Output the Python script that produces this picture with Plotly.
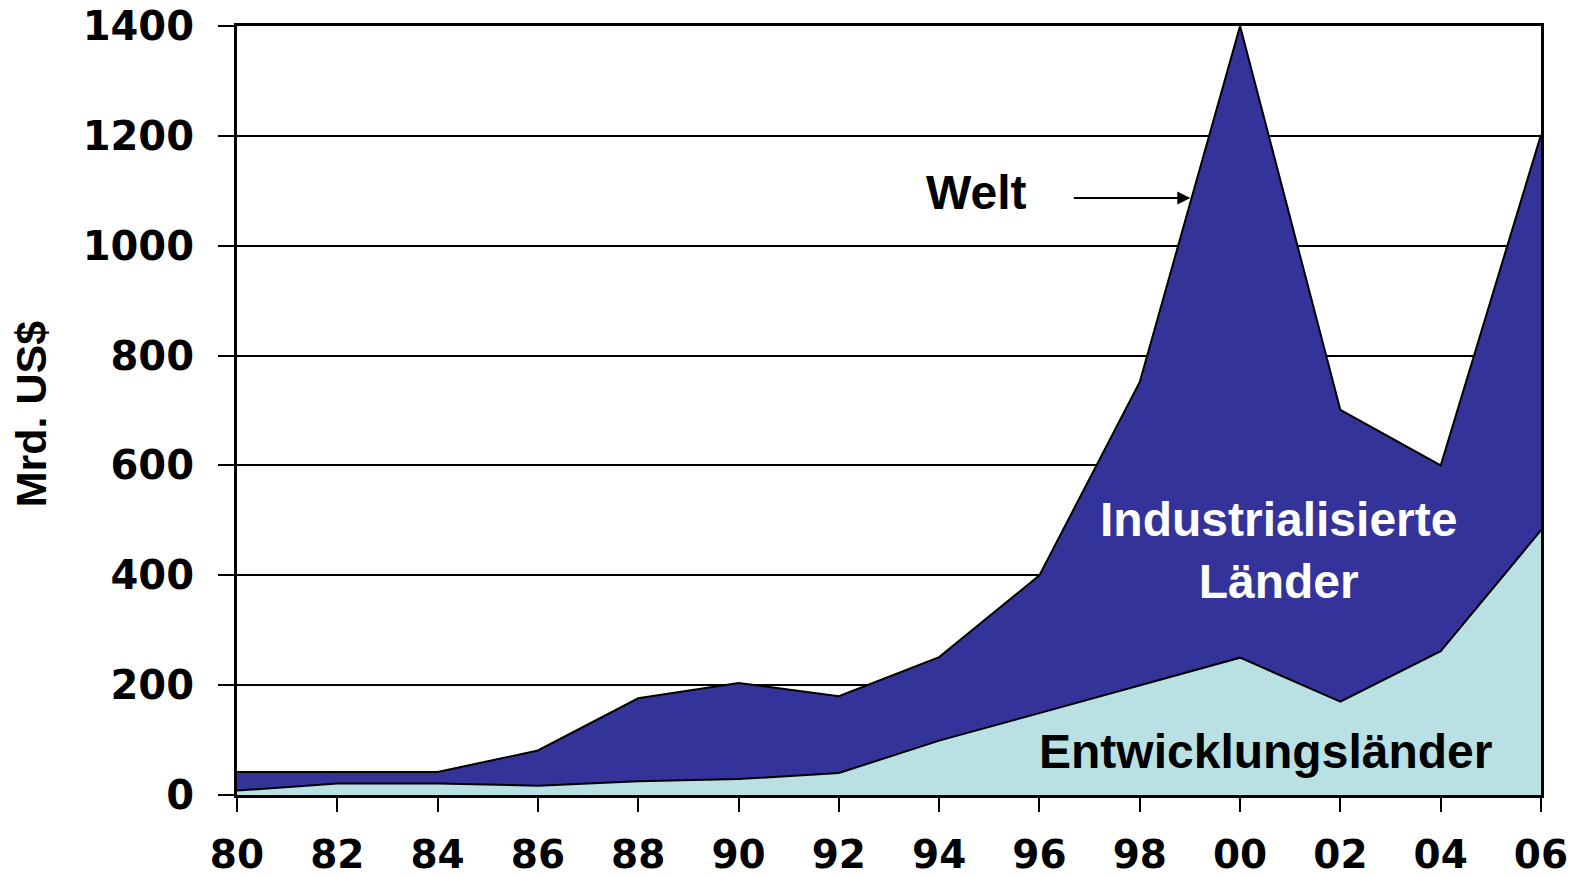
import plotly.graph_objects as go

# Jahre (zweistellig) und Werte in Mrd. US$
years = ["80", "82", "84", "86", "88", "90", "92", "94", "96", "98", "00", "02", "04", "06"]
welt = [42, 42, 42, 81, 176, 204, 180, 251, 400, 752, 1400, 701, 600, 1202]
entwicklungslaender = [8, 21, 21, 17, 25, 29, 40, 99, 149, 200, 250, 170, 262, 482]
y_ticks = [0, 200, 400, 600, 800, 1000, 1200, 1400]

FONT = "Liberation Sans, Arial, Helvetica, sans-serif"
TICK_FONT = "DejaVu Sans, Verdana, sans-serif"
DARK = "#333399"
LIGHT = "#B9E0E3"

x = list(range(len(years)))

fig = go.Figure()
fig.add_trace(go.Scatter(
    x=x, y=entwicklungslaender, mode="lines", fill="tozeroy",
    fillcolor=LIGHT, line=dict(color="black", width=2), hoverinfo="skip",
    name="Entwicklungsländer",
))
fig.add_trace(go.Scatter(
    x=x, y=welt, mode="lines", fill="tonexty",
    fillcolor=DARK, line=dict(color="black", width=2), hoverinfo="skip",
    name="Welt",
))

fig.update_layout(
    width=1579, height=878,
    margin=dict(l=237, r=38, t=26, b=83, autoexpand=False),
    paper_bgcolor="white", plot_bgcolor="white",
    showlegend=False,
    font=dict(family=FONT, color="black"),
)

fig.update_xaxes(
    range=[0, len(years) - 1],
    tickmode="array", tickvals=x, ticktext=years,
    ticks="outside", ticklen=14, tickwidth=2, tickcolor="black",
    showline=True, linecolor="black", linewidth=3, mirror=True,
    showgrid=False, zeroline=False, automargin=False,
    tickfont=dict(family=TICK_FONT, size=39, weight=700),
    ticklabelstandoff=9,
)
fig.update_yaxes(
    range=[0, 1400],
    tickmode="array", tickvals=y_ticks,
    ticks="outside", ticklen=16, tickwidth=2, tickcolor="black",
    showline=True, linecolor="black", linewidth=3, mirror=True,
    showgrid=True, gridcolor="black", gridwidth=2, zeroline=False,
    automargin=False,
    tickfont=dict(family=TICK_FONT, size=40, weight=700),
    ticklabelstandoff=16,
)

# Achsentitel
fig.add_annotation(
    text="Mrd. US$", xref="paper", yref="paper", x=-0.158, y=0.495,
    textangle=-90, showarrow=False, xanchor="center", yanchor="middle",
    font=dict(family=FONT, size=43, weight=700, color="black"),
)

# Beschriftung der Flächen
fig.add_annotation(
    text="Welt", x=7.363, y=1097, showarrow=False,
    xanchor="center", yanchor="middle",
    font=dict(family=FONT, size=48, weight=700, color="black"),
)
fig.add_annotation(
    text="", x=9.504, y=1087, ax=-118, ay=0,
    axref="pixel", ayref="pixel",
    showarrow=True, arrowhead=2, arrowsize=1.3, arrowwidth=2, arrowcolor="black",
    standoff=0,
)
fig.add_annotation(
    text="Industrialisierte<br>Länder", x=10.38, y=445, showarrow=False,
    font=dict(family=FONT, size=48, weight=700, color="white"),
    align="center", xanchor="center", yanchor="middle",
)
fig.add_annotation(
    text="Entwicklungsländer", x=10.25, y=80, showarrow=False,
    font=dict(family=FONT, size=48, weight=700, color="black"),
    xanchor="center", yanchor="middle",
)

fig.write_html("out.html")
